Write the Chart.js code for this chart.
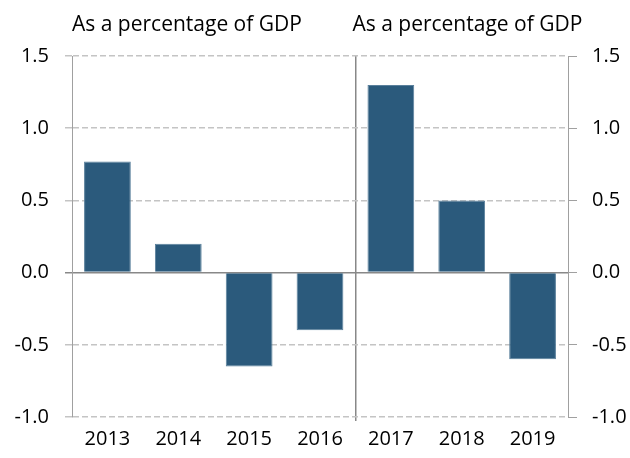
<!DOCTYPE html>
<html>
<head>
<meta charset="utf-8">
<script src="https://cdn.jsdelivr.net/npm/chart.js@4"></script>
<style>
  body { margin: 0; background: #fff; }
</style>
</head>
<body>
<canvas id="gdp_chart" width="630" height="458"></canvas>
<script>
// DATA
const years = ["2013", "2014", "2015", "2016", "2017", "2018", "2019"];
const gdp_share = [0.77, 0.2, -0.65, -0.4, 1.3, 0.5, -0.6];
const panel_titles = ["As a percentage of GDP", "As a percentage of GDP"];
const y_min = -1.0, y_max = 1.5, y_step = 0.5;

const FONT = "'Open Sans', 'Noto Sans', sans-serif";
const GRID = "#c4c4c4";
const AXIS = "#a0a0a0";

// draw the two panel titles above the plot
const panelTitles = {
  id: "panelTitles",
  afterDraw(chart) {
    const c = chart.ctx;
    const xs = chart.scales.x;
    const sep = (xs.getPixelForTick(3) + xs.getPixelForTick(4)) / 2;
    c.save();
    c.font = "21px " + FONT;
    c.fillStyle = "#000";
    c.textBaseline = "alphabetic";
    c.textAlign = "left";
    c.fillText(panel_titles[0], chart.chartArea.left, 31);
    c.fillText(panel_titles[1], sep - 3, 31);
    c.restore();
  },
};

const ctx = document.getElementById("gdp_chart").getContext("2d");

new Chart(ctx, {
  type: "bar",
  data: {
    labels: years,
    datasets: [
      {
        data: gdp_share,
        backgroundColor: "#2b5a7c",
        borderColor: "#5a809c",
        borderWidth: 1,
        barPercentage: 0.66,
        categoryPercentage: 1,
        yAxisID: "y",
      },
    ],
  },
  options: {
    responsive: false,
    animation: false,
    layout: { padding: { top: 56, left: 0, right: 0, bottom: 0 } },
    plugins: { legend: { display: false }, tooltip: { enabled: false } },
    scales: {
      x: {
        offset: true,
        afterFit: (s) => { s.height = 41; },
        border: { display: false },
        grid: {
          offset: true,
          color: (c) => (c.index === 4 ? "#888" : "rgba(0,0,0,0)"),
          lineWidth: (c) => (c.index === 4 ? 1.5 : 0),
          tickLength: 4,
        },
        ticks: { color: "#000", font: { family: FONT, size: 20 }, padding: 6 },
      },
      y: {
        position: "left",
        min: y_min,
        max: y_max,
        afterFit: (s) => { s.width = 72; },
        border: {
          display: true,
          color: AXIS,
          width: 1,
          dash: (c) => (c.tick && c.tick.value === 0 ? [] : [6, 3]),
        },
        grid: {
          color: (c) => (c.tick && c.tick.value === 0 ? "#888" : GRID),
          lineWidth: 1.5,
          tickLength: 7,
          tickColor: (c) => (c.tick && c.tick.value === 0 ? "#888" : GRID),
        },
        ticks: {
          stepSize: y_step,
          color: "#000",
          padding: 16,
          font: { family: FONT, size: 20 },
          callback: (v) => v.toFixed(1),
        },
      },
      y2: {
        position: "right",
        min: y_min,
        max: y_max,
        afterFit: (s) => { s.width = 62; },
        border: { display: true, color: AXIS, width: 1 },
        grid: { drawOnChartArea: false, tickLength: 9, color: AXIS, lineWidth: 1 },
        ticks: {
          stepSize: y_step,
          color: "#000",
          padding: 15,
          font: { family: FONT, size: 20 },
          callback: (v) => v.toFixed(1),
        },
      },
    },
  },
  plugins: [panelTitles],
});
</script>
</body>
</html>
